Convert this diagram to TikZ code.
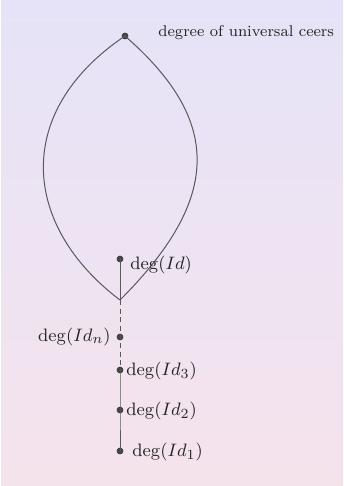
\documentclass[tikz,border=0pt]{standalone}
\begin{document}
\begin{tikzpicture}[x=0.5pt,y=-0.5pt,
  dot/.style={circle,fill=black!72,draw=black!80,line width=0.3pt,inner sep=0pt,minimum size=3pt},
  edge/.style={draw=black!65,line width=0.5pt},
  lbl/.style={inner sep=1pt,text=black!85,font=\fontsize{9.3}{11}\selectfont}]
\definecolor{bgtop}{RGB}{230,227,248}
\definecolor{bgbot}{RGB}{245,227,236}
\useasboundingbox (0,0) rectangle (343,486);
\shade[top color=bgtop,bottom color=bgbot] (1,1) rectangle (343,486);
% points
\node[dot] (top) at (125,36) {};
\coordinate (tip) at (120,300);
\node[dot] (id) at (120,259) {};
\node[dot] (idn) at (120,337) {};
\node[dot] (id3) at (120,370) {};
\node[dot] (id2) at (120,410) {};
\node[dot] (id1) at (120,451) {};
% lens
\draw[edge] (top.center) .. controls (12,112) and (22,226) .. (tip);
\draw[edge] (top.center) .. controls (220,119) and (224,196) .. (tip);
% chain
\draw[edge] (id.center) -- (tip);
\draw[edge,dash pattern=on 2.5pt off 1.8pt] (tip) -- (idn.center) -- (id3.center);
\draw[edge] (id3.center) -- (id2.center) -- (id1.center);
% labels
\node[lbl,anchor=west,font=\fontsize{7.8}{9}\selectfont] (ltop) at (156,33) {degree of universal ceers};
\node[lbl,anchor=west] (lid) at (128,265) {$\deg(Id)$};
\node[lbl,anchor=east] (lidn) at (113,337) {$\deg(Id_n)$};
\node[lbl,anchor=west] (lid3) at (124,371) {$\deg(Id_3)$};
\node[lbl,anchor=west] (lid2) at (124,411) {$\deg(Id_2)$};
\node[lbl,anchor=west] (lid1) at (130,452) {$\deg(Id_1)$};
\end{tikzpicture}
\end{document}
